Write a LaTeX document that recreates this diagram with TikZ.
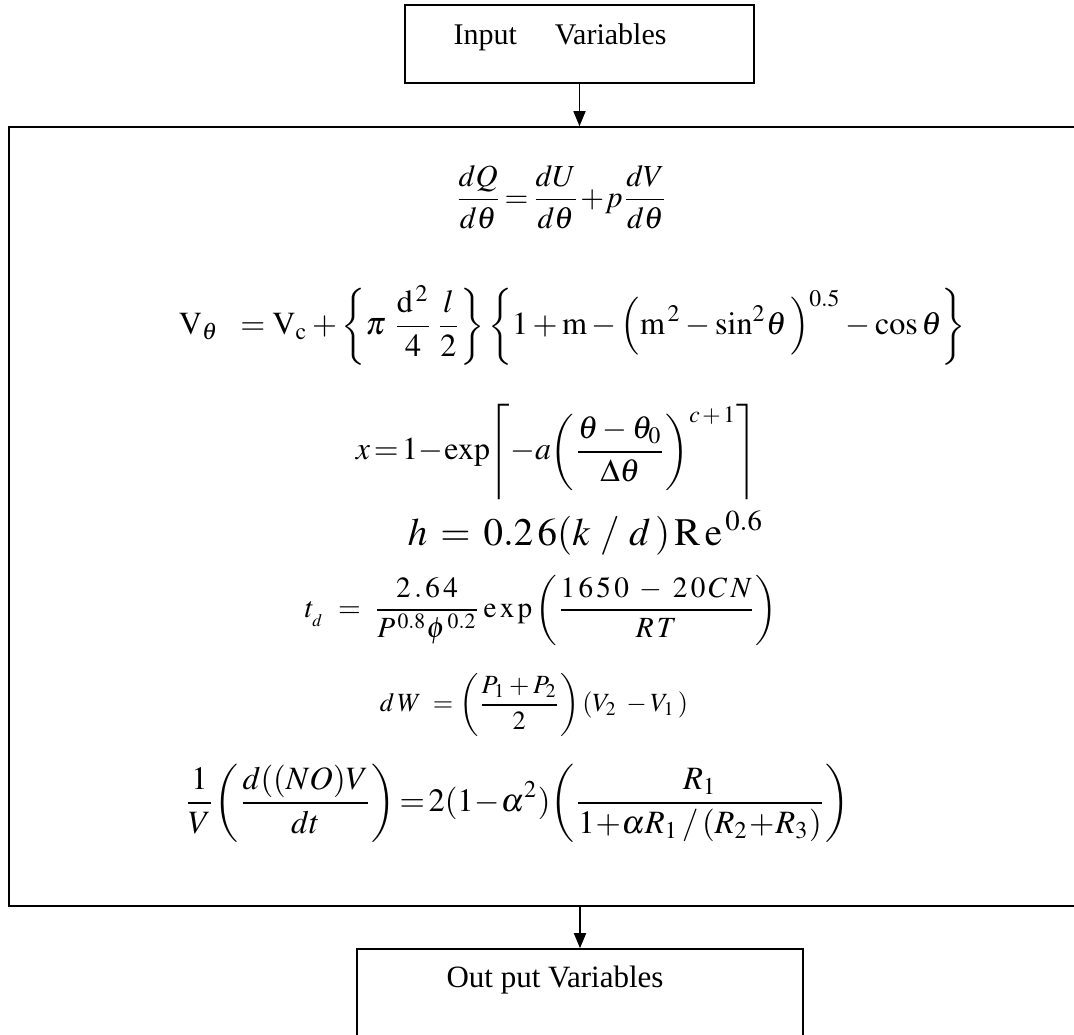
\documentclass[tikz,border=0pt]{standalone}
\usepackage{amsmath}
\usepackage{mathptmx}
\usepackage{graphicx}
\usepackage{fontspec}
\setmainfont{Liberation Serif}
\usetikzlibrary{arrows.meta}
\tikzset{
  box/.style={draw, line width=1.6pt, inner sep=0pt},
  arr/.style={line width=1.6pt, -{Triangle[width=12pt,length=15pt]}},
  eq/.style={inner sep=0pt, anchor=center},
  lbl/.style={inner sep=0pt, font=\fontsize{30}{36}\selectfont}
}
\begin{document}
\begin{tikzpicture}[x=1pt,y=-1pt]
\useasboundingbox (0,0) rectangle (1074,1034);
\clip (0,0) rectangle (1074,1034);
% boxes
\node[box, minimum width=349pt, minimum height=78pt] (in) at (579.5,44) {};
\node[lbl] (intext) at (560,37) {Input\hspace{38pt}Variables};
\node[box, minimum width=1069pt, minimum height=779pt] (main) at (543.5,516.5) {};
\node[box, minimum width=446pt, minimum height=95pt] (out) at (580,996.5) {};
\node[lbl, font=\fontsize{31}{37}\selectfont] (outtext) at (555,980) {Out put Variables};
% connectors
\draw[arr] (in.south) -- (in.south |- main.north);
\draw[arr] (out.north |- main.south) -- (out.north);
% equations
\node[eq] (e1) at (561.5,197) {\resizebox{213pt}{!}{$\displaystyle \frac{dQ}{d\theta}\!=\!\frac{dU}{d\theta}\!+\!p\frac{dV}{d\theta}$}};
\node[eq] (e2) at (572.5,325) {\resizebox{787pt}{!}{$\displaystyle \mathrm{V}_{\theta}\;\;=\mathrm{V}_{\mathrm{c}}+\left\{\pi\;\frac{\mathrm{d}^{\,2}}{4}\,\frac{l}{2}\right\}\left\{1+\mathrm{m}-\Big(\mathrm{m}^{\,2}-\sin^{2}\!\theta\,\Big)^{0.5}-\cos\theta\right\}$}};
\node[eq] (e3) at (556.5,452) {\resizebox{401pt}{!}{$\displaystyle x\!=\!1\!-\!\exp\!\left\lceil-a\!\left(\frac{\theta-\theta_{0}}{\Delta\theta}\right)^{c\,+\,1}\right\rceil$}};
\node[eq] (e4) at (586,533) {\resizebox{356pt}{!}{$h\,=\,0.2\,6(k\ /\ d\,)\,\mathrm{R\,e}^{\,0.6}$}};
\node[eq] (e5) at (541,610) {\resizebox{472pt}{!}{$\displaystyle t_{_{d}}\;=\;\frac{2\,.\,6\,4}{P^{\,0.8}\phi^{\,0.2}}\,\mathrm{e\,x\,p}\left(\frac{1\,6\,5\,0\;-\;2\,0\,C\,N}{R\,T}\right)$}};
\node[eq] (e6) at (534,705) {\resizebox{308pt}{!}{$\displaystyle d\,W\;=\left(\frac{P_{1}+P_{2}}{2}\right)(V_{2}\;-V_{1}\,)$}};
\node[eq] (e7) at (517,803) {\resizebox{665pt}{!}{$\displaystyle \frac{1}{V}\!\left(\frac{d((NO)V}{dt}\right)\!=\!2(1\!-\!\alpha^{2})\!\left(\frac{R_{1}}{1\!+\!\alpha R_{1}\,/\,(R_{2}\!+\!R_{3})}\right)$}};
\end{tikzpicture}
\end{document}
